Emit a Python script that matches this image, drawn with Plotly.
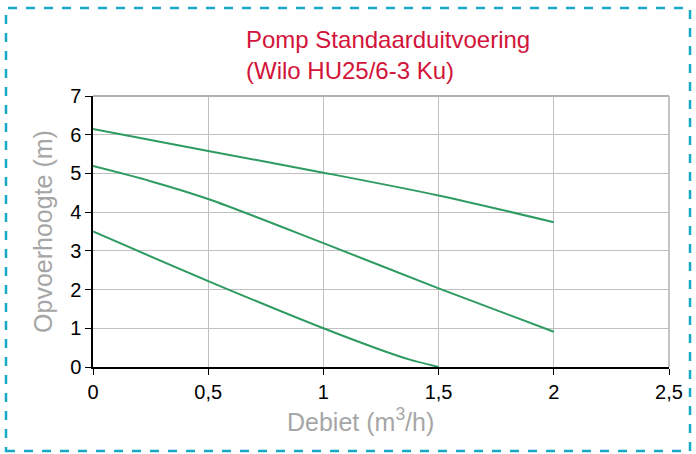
import plotly.graph_objects as go

# Data
flow_top = [0, 0.5, 1, 1.5, 2]
head_top = [6.15, 5.58, 5.02, 4.43, 3.74]

flow_mid = [0, 0.25, 0.5, 1, 1.5, 2]
head_mid = [5.19, 4.80, 4.34, 3.20, 2.03, 0.91]

flow_low = [0, 0.5, 1, 1.25, 1.375, 1.5]
head_low = [3.5, 2.22, 1.0, 0.44, 0.19, 0.0]

x_ticks = [0, 0.5, 1, 1.5, 2, 2.5]
y_ticks = [0, 1, 2, 3, 4, 5, 6, 7]

title_text = "Pomp Standaarduitvoering<br>(Wilo HU25/6-3 Ku)"
x_title = "Debiet (m<sup>3</sup>/h)"
y_title = "Opvoerhoogte (m)"

GREEN = "#2e9b62"
FONT = "Liberation Sans, Arial, sans-serif"

fig = go.Figure()
for xs, ys in [(flow_top, head_top), (flow_mid, head_mid), (flow_low, head_low)]:
    fig.add_trace(go.Scatter(x=xs, y=ys, mode="lines",
                             line=dict(color=GREEN, width=2, shape="spline", smoothing=0.8),
                             showlegend=False, hoverinfo="skip"))

W, H = 696, 454
L, R, T, B = 93, 27, 96, 87
pw, ph = W - L - R, H - T - B

def px_to_paper_x(px):
    return (px - L) / pw

def px_to_paper_y(py):
    return (H - B - py) / ph

fig.update_layout(
    width=W, height=H,
    margin=dict(l=L, r=R, t=T, b=B),
    paper_bgcolor="white", plot_bgcolor="white",
    separators=",.",
    font=dict(family=FONT, color="black"),
    title=dict(text=title_text, x=246 / W, xanchor="left", xref="container",
               y=1 - 48 / H, yanchor="top", yref="container",
               font=dict(family=FONT, size=24, color="#d2143a")),
    xaxis=dict(range=[0, 2.5], tickvals=x_ticks, showgrid=True, gridcolor="#c0c0c0", gridwidth=1,
               zeroline=False, showline=True, linecolor="black", linewidth=1.5,
               ticks="outside", ticklen=6, tickcolor="black", tickwidth=1,
               tickfont=dict(size=20, color="black")),
    yaxis=dict(range=[0, 7], tickvals=y_ticks, showgrid=True, gridcolor="#c0c0c0", gridwidth=1,
               zeroline=False, showline=True, linecolor="black", linewidth=1.5,
               ticks="outside", ticklen=6, tickcolor="black", tickwidth=1,
               tickfont=dict(size=20, color="black"),
               title=dict(text=y_title, font=dict(size=25, color="#a6a6a6"), standoff=10)),
    annotations=[
        dict(text=x_title, xref="paper", yref="paper", x=px_to_paper_x(360), y=px_to_paper_y(420),
             xanchor="center", yanchor="middle", showarrow=False,
             font=dict(family=FONT, size=25, color="#a6a6a6")),
    ],
    shapes=[
        dict(type="line", xref="paper", yref="paper", x0=0, x1=1, y0=1, y1=1,
             line=dict(color="#b0b0b0", width=2)),
        dict(type="line", xref="paper", yref="paper", x0=1, x1=1, y0=0, y1=1,
             line=dict(color="#b0b0b0", width=1.5)),
        dict(type="rect", xref="paper", yref="paper",
             x0=px_to_paper_x(6), x1=px_to_paper_x(690),
             y0=px_to_paper_y(451), y1=px_to_paper_y(8),
             line=dict(color="#1aa8c8", width=2.5, dash="dash")),
    ],
)

fig.write_html("out.html", config={"displayModeBar": False},
               post_script="document.body.style.margin='0';")
